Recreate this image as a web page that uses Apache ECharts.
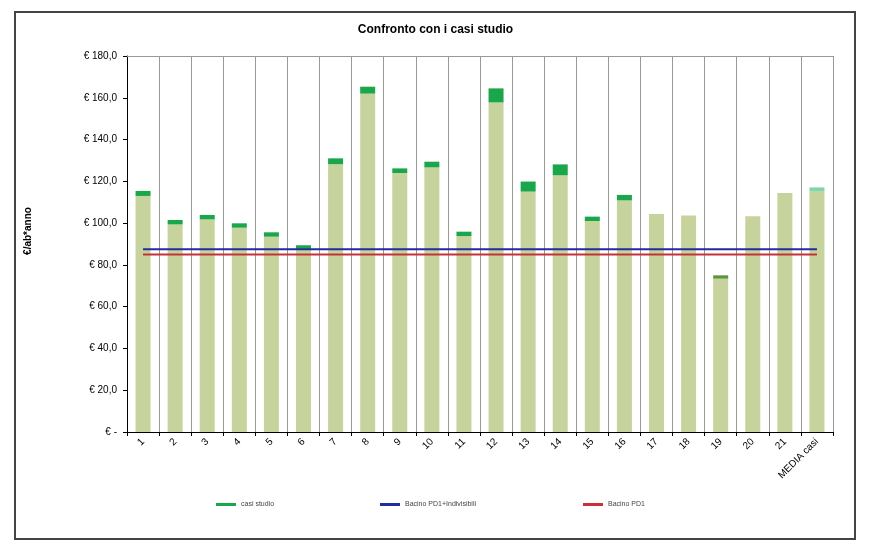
<!DOCTYPE html>
<html>
<head>
<meta charset="utf-8">
<script src="https://cdn.jsdelivr.net/npm/echarts@6/dist/echarts.min.js"></script>
<style>html,body{margin:0;padding:0;background:#fff;}#c{width:871px;height:549px;}</style>
</head>
<body>
<div id="c"></div>
<script>
const categories = ['1','2','3','4','5','6','7','8','9','10','11','12','13','14','15','16','17','18','19','20','21','MEDIA casi'];
const baseValues = [113.0, 99.4, 101.8, 97.8, 93.5, 87.7, 128.2, 162.0, 124.0, 126.7, 93.8, 157.8, 115.1, 122.9, 101.0, 110.9, 104.4, 103.7, 73.4, 103.3, 114.4, 115.1];
const casiStudio = [2.4, 2.1, 2.1, 2.1, 2.1, 1.7, 2.8, 3.3, 2.2, 2.7, 2.1, 6.7, 4.8, 5.2, 2.1, 2.6, 0, 0, 1.6, 0, 0, 2.0];
const bacinoIndivisibili = 87.5;
const bacinoPD1 = 85.0;
const yTicks = { min: 0, max: 180, interval: 20 };

const chart = echarts.init(document.getElementById('c'), null, { renderer: 'canvas' });
const FONT = 'Liberation Sans, Arial, sans-serif';

const topData = casiStudio.map((v, i) => {
  if (categories[i] === 'MEDIA casi') return { value: v, itemStyle: { color: '#86d3a8' } };
  if (categories[i] === '19') return { value: v, itemStyle: { color: '#5e9440' } };
  return v;
});

const legendCommon = {
  bottom: 41, itemWidth: 20, itemHeight: 3, itemGap: 2, padding: 0,
  textStyle: { fontSize: 7, color: '#444', fontFamily: FONT },
  selectedMode: false
};

chart.setOption({
  animation: false,
  title: {
    text: 'Confronto con i casi studio', left: 'center', top: 19,
    textStyle: { fontSize: 12, fontWeight: 'bold', color: '#000', fontFamily: FONT }
  },
  legend: [
    Object.assign({ left: 216, data: [{ name: 'casi studio', icon: 'rect', itemStyle: { color: '#1aa64b' } }] }, legendCommon),
    Object.assign({ left: 380, data: [{ name: 'Bacino PD1+Indivisibili', icon: 'rect' }] }, legendCommon),
    Object.assign({ left: 583, data: [{ name: 'Bacino PD1', icon: 'rect' }] }, legendCommon)
  ],
  grid: { left: 127, right: 38, top: 56, bottom: 117 },
  xAxis: [{
    type: 'category', data: categories, boundaryGap: true,
    axisLine: { lineStyle: { color: '#000', width: 1 } },
    axisTick: { show: true, length: 4, lineStyle: { color: '#000' } },
    axisLabel: { rotate: 45, fontSize: 10, color: '#000', fontFamily: FONT, margin: 8, interval: 0 },
    splitLine: { show: true, lineStyle: { color: '#999', width: 1 } }
  }, {
    type: 'category', data: categories, position: 'top',
    axisLine: { show: true, lineStyle: { color: '#999' } },
    axisTick: { show: false }, axisLabel: { show: false }, splitLine: { show: false }
  }],
  yAxis: {
    type: 'value', min: yTicks.min, max: yTicks.max, interval: yTicks.interval,
    axisLine: { show: true, lineStyle: { color: '#000' } },
    axisTick: { show: true, length: 4, lineStyle: { color: '#000' } },
    splitLine: { show: false },
    axisLabel: {
      fontSize: 10, color: '#000', fontFamily: FONT, margin: 10,
      formatter: v => v === 0 ? '€ -' : '€ ' + v.toFixed(1).replace('.', ',')
    }
  },
  graphic: [
    { type: 'rect', shape: { x: 15, y: 12, width: 840, height: 527 }, style: { fill: 'none', stroke: '#444', lineWidth: 2 }, silent: true, z: 100 },
    { type: 'text', x: 28, y: 231, rotation: Math.PI / 2, style: { text: '€/ab*anno', fontSize: 10, fontWeight: 'bold', fontFamily: FONT, fill: '#000', textAlign: 'center', textVerticalAlign: 'middle' } }
  ],
  series: [
    { name: 'base', type: 'bar', stack: 'a', data: baseValues, barWidth: 15, itemStyle: { color: '#c6d39d' } },
    { name: 'casi studio', type: 'bar', stack: 'a', data: topData, barWidth: 15, itemStyle: { color: '#1aa64b' } },
    { name: 'Bacino PD1+Indivisibili', type: 'line', data: categories.map(() => bacinoIndivisibili), symbol: 'none', lineStyle: { color: '#1f2e9e', width: 2 }, itemStyle: { color: '#1f2e9e' }, z: 5 },
    { name: 'Bacino PD1', type: 'line', data: categories.map(() => bacinoPD1), symbol: 'none', lineStyle: { color: '#c8313a', width: 2 }, itemStyle: { color: '#c8313a' }, z: 5 }
  ]
});
</script>
</body>
</html>
